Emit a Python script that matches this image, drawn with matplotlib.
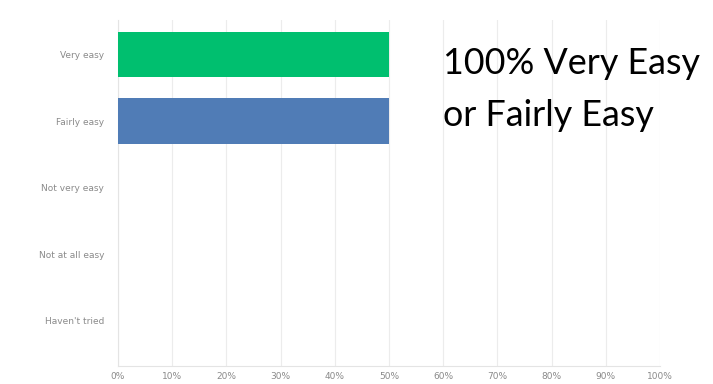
import matplotlib.pyplot as plt
from matplotlib.ticker import PercentFormatter

categories = ["Very easy", "Fairly easy", "Not very easy", "Not at all easy", "Haven't tried"]
values = [50, 50, 0, 0, 0]
colors = ["#00BF6F", "#507CB6", "#507CB6", "#507CB6", "#507CB6"]
xticks = list(range(0, 101, 10))
note_lines = ["100% Very Easy", "or Fairly Easy"]


def main():
    fig = plt.figure(figsize=(7.13, 3.84), dpi=100)
    ax = fig.add_axes([0.1655, 0.047, 0.76, 0.901])

    ypos = list(range(len(categories)))
    ax.barh(ypos, values, height=0.68, color=colors, zorder=3)

    ax.set_xlim(0, 100)
    ax.set_ylim(4.68, -0.52)
    ax.set_xticks(xticks)
    ax.xaxis.set_major_formatter(PercentFormatter(decimals=0))
    ax.set_yticks(ypos)
    ax.set_yticklabels(categories)
    ax.tick_params(axis="both", length=0, labelsize=6.5, colors="#8a8a8a")
    ax.tick_params(axis="x", pad=4)
    ax.tick_params(axis="y", pad=10)

    ax.grid(axis="x", color="#ececec", linewidth=0.8, zorder=0)
    for side in ["top", "right"]:
        ax.spines[side].set_visible(False)
    ax.spines["left"].set_color("#e4e4e4")
    ax.spines["bottom"].set_color("#e4e4e4")

    # annotation, one line at a time (baselines)
    for line, base in zip(note_lines, [74, 126]):
        fig.text(443 / 713, 1 - base / 384, line, fontsize=25.8, family="Lato",
                 va="baseline", ha="left", color="black")

    fig.savefig("out.png", dpi=100)


if __name__ == "__main__":
    main()
